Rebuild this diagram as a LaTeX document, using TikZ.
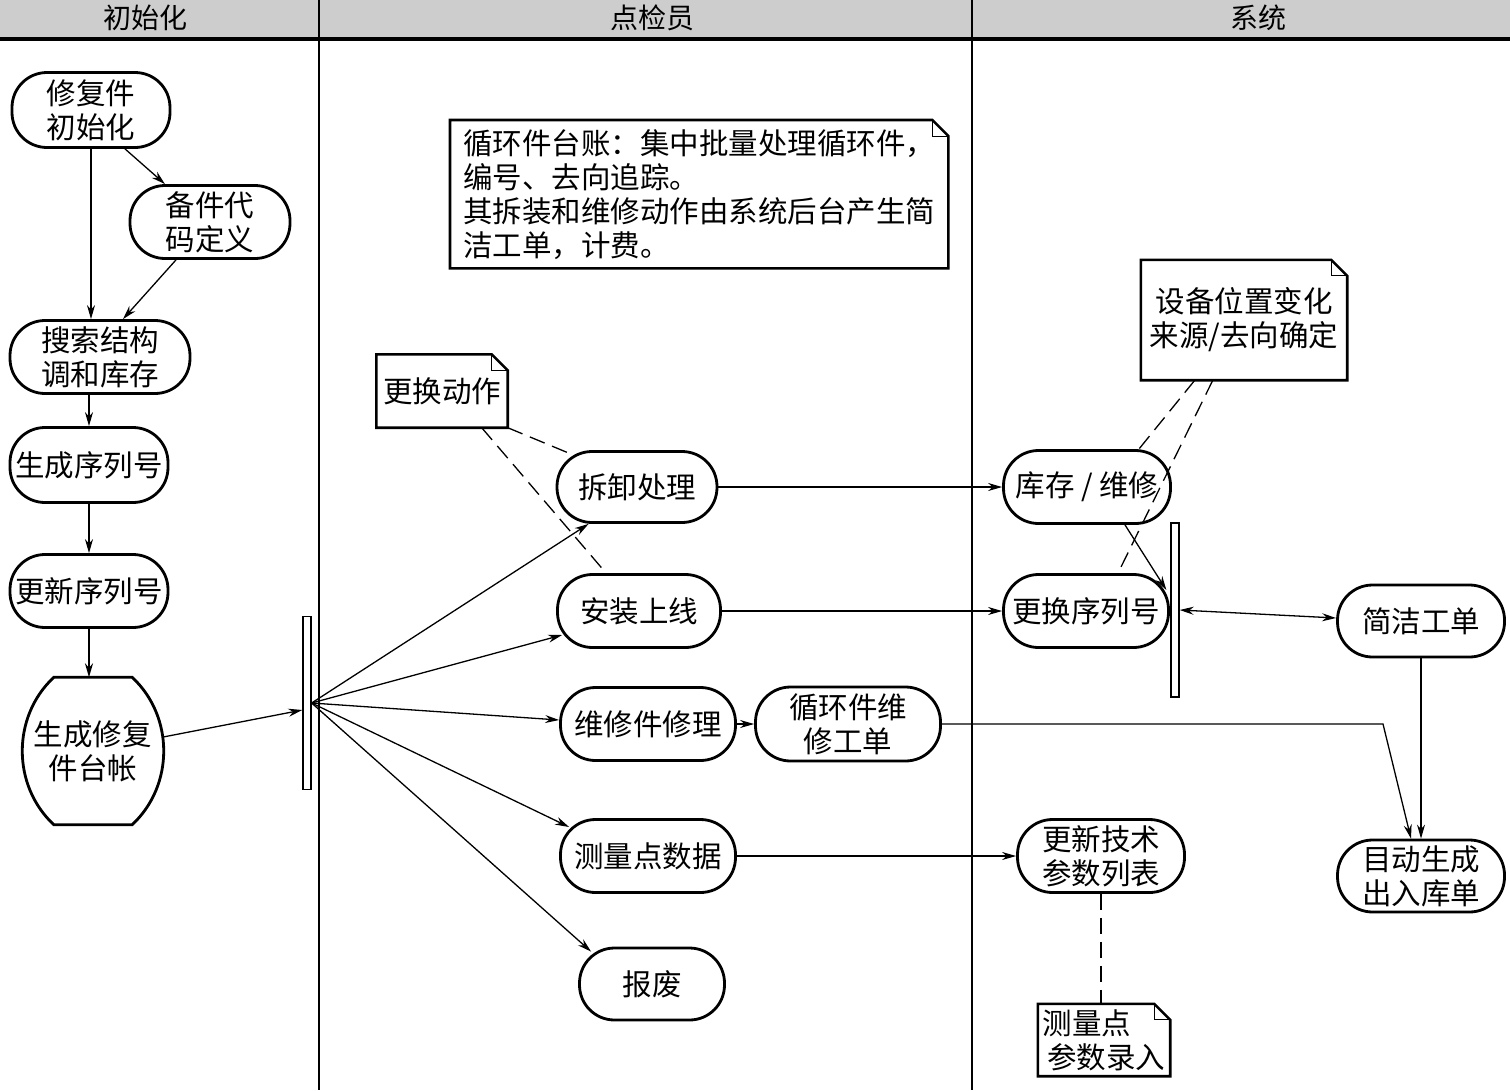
\documentclass[tikz,border=0pt]{standalone}
\usepackage{fontspec}
\setmainfont{Noto Sans CJK SC}
\usepackage{tikz}
\usetikzlibrary{arrows.meta,positioning,calc,shapes.misc}
\definecolor{laneGray}{HTML}{CDCDCD}
\newcommand{\nodefont}{\fontsize{29.5}{34}\selectfont}
\tikzset{
  flowarrow/.style={-{Stealth[length=14pt,width=8pt]}, line width=1.3pt},
  botharrow/.style={{Stealth[length=14pt,width=8pt]}-{Stealth[length=14pt,width=8pt]}, line width=1.3pt},
  noteline/.style={line width=1.3pt, dash pattern=on 16pt off 8pt},
  act/.style={draw, line width=2.8pt, rounded corners=35pt, align=center,
    inner sep=0pt, minimum height=73pt, font=\nodefont},
  barrel/.style={align=center, inner ysep=0pt, inner xsep=-20pt, font=\nodefont},
  forkbar/.style={draw, line width=1.3pt, fill=white, inner sep=0pt, minimum width=8pt},
  notebox/.style={align=left, inner sep=0pt, font=\nodefont},
  lanehead/.style={font=\fontsize{28}{30}\selectfont}
}
\newcommand{\dognote}[1]{%
  \draw[line width=2.6pt, line join=miter] (#1.south west) -- (#1.north west)
    -- ([xshift=-16pt]#1.north east) -- ([yshift=-16pt]#1.north east)
    -- (#1.south east) -- cycle;
  \draw[line width=1pt] ([xshift=-16pt]#1.north east) |- ([yshift=-16pt]#1.north east);}

\begin{document}
\begin{tikzpicture}[x=1pt,y=-1pt]
    \useasboundingbox (0,0) rectangle (1510,1090);
    % swimlanes
    \fill[laneGray] (0,0) rectangle (1510,37);
    \draw[line width=4pt] (0,39) -- (1510,39);
    \draw[line width=1.5pt] (319,0) -- (319,1090);
    \draw[line width=1.5pt] (972,0) -- (972,1090);
    \node[lanehead] (lane1) at (145,18) {初始化};
    \node[lanehead] (lane2) at (652,18) {点检员};
    \node[lanehead] (lane3) at (1258,18) {系统};

    % initialisation
    \node[act, minimum width=158pt, minimum height=75pt] (xf) at (91,110) {修复件\\初始化};
    \node[act, minimum width=160pt] (bj) at (210,222) {备件代\\码定义};
    \node[act, minimum width=180pt] (ss) at (100,357) {搜索结构\\调和库存};
    \node[act, minimum width=158pt, minimum height=75pt] (sx) at (89,465) {生成序列号};
    \node[act, minimum width=158pt] (gx) at (89,591) {更新序列号};
    \node[barrel, minimum height=147pt] (sc) at (93,751) {生成修复\\件台帐};
    \draw[line width=2.8pt] (sc.north west) -- (sc.north east) to[bend left=47] (sc.south east)
      -- (sc.south west) to[bend left=47] (sc.north west) -- cycle;
    \node[forkbar, minimum height=173pt] (bar1) at (307,703) {};

    % inspector
    \node[notebox, minimum width=498pt, minimum height=148pt, anchor=north west] (xh) at (450,120)
      {循环件台账：集中批量处理循环件，\\编号、去向追踪。\\其拆装和维修动作由系统后台产生简\\洁工单，计费。};
    \node[notebox, minimum width=131pt, minimum height=73pt] (hd) at (442,391) {更换动作};
    \node[act, minimum width=160pt, minimum height=71pt] (chai) at (637,487) {拆卸处理};
    \node[act, minimum width=163pt] (anz) at (639,611) {安装上线};
    \node[act, minimum width=175pt] (wx) at (648,724) {维修件修理};
    \node[act, minimum width=185pt, minimum height=74pt] (xg) at (848,724) {循环件维\\修工单};
    \node[act, minimum width=175pt] (cl) at (648,856) {测量点数据};
    \node[act, minimum width=145pt, minimum height=72pt] (bf) at (652,984) {报废};

    % system
    \node[notebox, align=center, minimum width=206pt, minimum height=120pt] (sb) at (1244,320) {设备位置变化\\来源/去向确定};
    \node[act, minimum width=167pt] (kc) at (1087,487) {库存 / 维修};
    \node[act, minimum width=165pt] (gh) at (1086,611) {更换序列号};
    \node[forkbar, minimum height=174pt] (bar2) at (1175,610) {};
    \node[act, minimum width=167pt, minimum height=72pt] (jj) at (1421,621) {简洁工单};
    \node[act, minimum width=167pt, minimum height=72pt] (zd) at (1421,876) {目动生成\\出入库单};
    \node[act, minimum width=167pt] (gj) at (1101,856) {更新技术\\参数列表};
    \node[notebox, minimum width=132pt, minimum height=72pt] (cd) at (1104,1040) {测量点\\\,参数录入};
    \coordinate (xgbend) at (1383,724);

    \dognote{xh}
    \dognote{hd}
    \dognote{sb}
    \dognote{cd}

    \draw[flowarrow] ([xshift=34pt]xf.south) -- ([xshift=-45pt]bj.north);
    \draw[flowarrow] (xf.south) -- (xf.south |- ss.north);
    \draw[flowarrow] ([xshift=-34pt]bj.south) -- ([xshift=23pt]ss.north);
    \draw[flowarrow] (sx.north |- ss.south) -- (sx.north);
    \draw[flowarrow] (sx.south) -- (gx.north);
    \draw[flowarrow, line width=2.2pt] (gx.south) -- (gx.south |- sc.north);
    \draw[flowarrow] ([xshift=31pt,yshift=14pt]sc.east) -- ([yshift=-7pt]bar1.west);

    \draw[flowarrow] (bar1.east) -- ([xshift=33pt]chai.south west);
    \draw[flowarrow] (bar1.east) -- ([xshift=6pt,yshift=-24pt]anz.west);
    \draw[flowarrow] (bar1.east) -- ([yshift=4pt]wx.west);
    \draw[flowarrow] (bar1.east) -- ([xshift=10pt,yshift=29pt]cl.west);
    \draw[flowarrow] (bar1.east) -- ([xshift=13pt,yshift=-5pt]bf.north west);
    \draw[flowarrow] (wx.east) -- (xg.west);

    \draw[flowarrow] (chai.east) -- (kc.west);
    \draw[flowarrow] (anz.east) -- (gh.west);
    \draw[flowarrow] (cl.east) -- (gj.west);
    \draw[flowarrow] ([xshift=38pt]kc.south) -- ([xshift=-4pt,yshift=20pt]bar2.west);
    \draw[botharrow] (bar2.east) -- ([yshift=3pt]jj.west);
    \draw[flowarrow] (jj.south) -- (zd.north);
    \draw[flowarrow] (xg.east) -- (xgbend) -- ([xshift=-10pt]zd.north);

    \draw[noteline] (hd.south east) -- ([xshift=18pt,yshift=-5pt]chai.north west);
    \draw[noteline] ([xshift=-26pt]hd.south east) -- ([xshift=50pt]anz.north west);
    \draw[noteline] ([xshift=54pt]sb.south west) -- ([xshift=-33pt]kc.north east);
    \draw[noteline] ([xshift=72pt]sb.south west) -- ([xshift=32pt]gh.north);
    \draw[noteline] (gj.south) -- (gj.south |- cd.north);
\end{tikzpicture}
\end{document}
